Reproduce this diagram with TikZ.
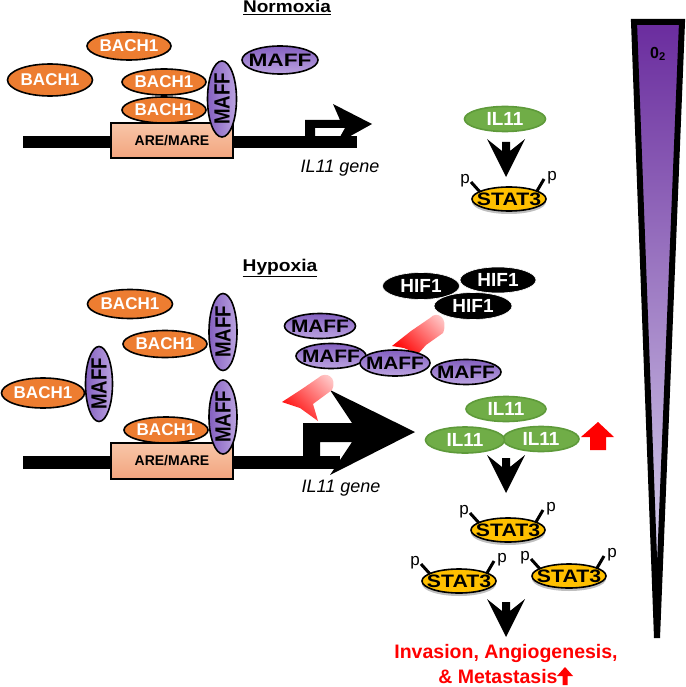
\documentclass[tikz,border=0pt]{standalone}
\usepackage{fontspec}
\setmainfont{Liberation Sans}
\usepackage{graphicx}
\usetikzlibrary{shapes.geometric,shadows}
\definecolor{bachO}{HTML}{ED7D31}
\definecolor{maffT}{HTML}{8460C0}
\definecolor{maffB}{HTML}{BBA3E0}
\definecolor{areT}{HTML}{F8C6A8}
\definecolor{areB}{HTML}{F2A47E}
\definecolor{ilG}{HTML}{70AD47}
\definecolor{ilD}{HTML}{5E9A3A}
\definecolor{statY}{HTML}{FFC000}
\definecolor{oTop}{HTML}{6A2C9E}
\definecolor{oMid}{HTML}{9C8CC4}
\definecolor{oBot}{HTML}{E4E6F6}
\newcommand{\fsz}[1]{\fontsize{#1}{#1}\selectfont}
\newcommand{\statgrp}[3]{%
  \node[stat] (#1) at (#2,#3) {};
  \node[bt] at (#1) {\scalebox{1.18}[1]{STAT3}};
  \draw[stick] ([shift={(-38,-17)}]#1.center) -- ([shift={(-29,-7)}]#1.center);
  \draw[stick] ([shift={(35,-20)}]#1.center) -- ([shift={(28,-8)}]#1.center);
  \node[ptx] at ([shift={(-44,-16)}]#1.center) {p};
  \node[ptx] at ([shift={(43,-19)}]#1.center) {p};
}
\newcommand{\downarr}[2]{%
  \fill[black] (#1-19,#2-38) -- (#1-4,#2-26) -- (#1-4,#2-35) -- (#1+4,#2-35) -- (#1+4,#2-26) -- (#1+19,#2-38) -- (#1,#2) -- cycle;
}
\begin{document}
\begin{tikzpicture}[x=1pt,y=-1pt,
  prot/.style={ellipse, inner sep=0pt, line width=1.6pt},
  bach/.style={prot, draw=black, fill=bachO, minimum width=84pt, minimum height=28pt},
  maffh/.style={prot, draw=black, top color=maffT, bottom color=maffB, minimum width=70pt, minimum height=25pt},
  maffv/.style={prot, draw=black, left color=maffT, right color=maffB, minimum width=28pt, minimum height=76pt},
  il/.style={prot, draw=ilD, fill=ilG, minimum width=80pt, minimum height=25pt},
  hif/.style={prot, draw=white, line width=0.6pt, fill=black, minimum width=77pt, minimum height=27pt},
  stat/.style={prot, draw=black, fill=statY, minimum width=74pt, minimum height=24pt,
     drop shadow={shadow xshift=0pt, shadow yshift=-3pt, opacity=0.25, fill=black}},
  arebox/.style={rectangle, draw=black, line width=1.5pt, top color=areT, bottom color=areB,
     minimum width=122pt, minimum height=35pt, inner sep=0pt, font=\bfseries\fsz{14}},
  wt/.style={inner sep=0pt, text=white, font=\bfseries\fsz{17}},
  wtl/.style={inner sep=0pt, text=white, font=\bfseries\fsz{19}},
  bt/.style={inner sep=0pt, text=black, font=\bfseries\fsz{18}},
  vt/.style={inner sep=0pt, text=black, font=\bfseries\fsz{22}, rotate=90},
  ptx/.style={inner sep=0pt, anchor=base, font=\fsz{17}},
  stick/.style={line width=3pt, black},
  ttl/.style={inner sep=0pt, anchor=base, font=\bfseries\fsz{17}},
  gene/.style={inner sep=0pt, anchor=base, font=\itshape\fsz{18}},
  redtx/.style={inner sep=0pt, anchor=base, text=red, font=\bfseries\fsz{19.5}},
  redarr/.style={top color=red!22, bottom color=red!95, shading angle=-45}
]
\useasboundingbox (0,0) rectangle (685,687);

% ---------- O2 gradient wedge ----------
\shade[top color=oTop, middle color=oMid, bottom color=oBot] (634,22) -- (682,22) -- (657,638) -- cycle;
\draw[line width=6pt, line join=miter] (634,22) -- (682,22) -- (657,638) -- cycle;
\node[font=\bfseries\fsz{16}, inner sep=0pt] (o2) at (658,54) {0\textsubscript{2}};

% ---------- Normoxia ----------
\node[ttl] (tN) at (287,13) {\underline{\scalebox{1.12}[1]{Normoxia}}};
\fill[black] (23,136) rectangle (357,148);
\fill[black] (305,137) -- (305,120) -- (340,120) -- (333,104) -- (372,124) -- (336,144) -- (345,128) -- (315,128) -- (315,137) -- cycle;
\node[arebox] (are1) at (172,140.5) {ARE/MARE};
\node[gene] (g1) at (340,172) {IL11 gene};

\node[bach] (nb1) at (129,46) {};  \node[wt] at (nb1) {BACH1};
\node[bach, minimum width=85pt, minimum height=32pt] (nb2) at (50,80) {};  \node[wt] at (nb2) {BACH1};
\node[bach, minimum height=26pt] (nb3) at (164,82) {};  \node[wt] at (nb3) {BACH1};
\node[bach, minimum height=26pt] (nb4) at (164,110) {}; \node[wt] at (nb4) {BACH1};
\node[maffv, minimum width=29pt] (nm1) at (222,99) {}; \node[vt] at (nm1) {\scalebox{0.85}[1]{MAFF}};
\node[maffh, minimum width=76pt, minimum height=28pt] (nm2) at (280,60) {}; \node[bt] at (nm2) {\scalebox{1.26}[1]{MAFF}};

\node[il, minimum width=81pt] (ni1) at (505,119) {}; \node[wtl] at (ni1) {IL11};
\downarr{506}{177}
\statgrp{ns1}{509}{199}

% ---------- Hypoxia ----------
\node[ttl] (tH) at (280,271.5) {\underline{\scalebox{1.13}[1]{Hypoxia}}};
\fill[black] (23,456) rectangle (340,469);
\fill[black] (303,458) -- (303,423) -- (352,423) -- (330,390) -- (415,432) -- (330,475) -- (352,442) -- (320,442) -- (320,458) -- cycle;
\node[arebox, minimum height=36pt] (are2) at (172,461) {ARE/MARE};
\node[gene] (g2) at (341,492) {IL11 gene};

% red gradient arrows
\shade[redarr] (318,378) .. controls (326,370) and (338,378) .. (332,390) -- (313,404) -- (318,421) -- (300,408) -- (282,402) -- (302,389) -- cycle;
\shade[redarr] (430,318) .. controls (437,310) and (449,318) .. (443,333) -- (426,345) -- (418,354) -- (404,348) -- (392,346) -- (411,331) -- cycle;

\node[bach, minimum width=85pt, minimum height=29pt] (hb1) at (130,304) {}; \node[wt] at (hb1) {BACH1};
\node[bach, minimum height=27pt] (hb2) at (165,344) {}; \node[wt] at (hb2) {BACH1};
\node[bach, minimum width=83pt, minimum height=30pt] (hb3) at (43,393) {}; \node[wt] at (hb3) {BACH1};
\node[bach, minimum height=26pt] (hb4) at (166,430) {}; \node[wt] at (hb4) {BACH1};
\node[maffv, minimum height=77pt] (hm1) at (223,332) {}; \node[vt] at (hm1) {\scalebox{0.85}[1]{MAFF}};
\node[maffv, minimum width=27pt, minimum height=75pt] (hm2) at (99,384) {}; \node[vt] at (hm2) {\scalebox{0.85}[1]{MAFF}};
\node[maffv, minimum height=74pt] (hm3) at (223,417) {}; \node[vt] at (hm3) {\scalebox{0.85}[1]{MAFF}};

\node[hif] (h1) at (421,286) {}; \node[wtl] at (h1) {HIF1};
\node[hif, minimum width=76pt, minimum height=26pt] (h2) at (498,280) {}; \node[wtl] at (h2) {HIF1};
\node[hif, minimum width=78pt] (h3) at (473,306) {}; \node[wtl] at (h3) {HIF1};

\node[maffh, minimum width=71pt] (hm4) at (320,326) {}; \node[bt] at (hm4) {\scalebox{1.16}[1]{MAFF}};
\node[maffh] (hm5) at (331,356) {}; \node[bt] at (hm5) {\scalebox{1.16}[1]{MAFF}};
\node[maffh, minimum height=26pt] (hm6) at (395,363) {}; \node[bt] at (hm6) {\scalebox{1.16}[1]{MAFF}};
\node[maffh] (hm7) at (466,372) {}; \node[bt] at (hm7) {\scalebox{1.16}[1]{MAFF}};

\node[il] (hi1) at (506,409) {}; \node[wtl] at (hi1) {IL11};
\node[il, minimum width=76pt] (hi3) at (541,439) {}; \node[wtl] at (hi3) {IL11};
\node[il, minimum width=79pt, minimum height=26pt] (hi2) at (465,440) {}; \node[wtl] at (hi2) {IL11};
\fill[red] (598,422) -- (614,437) -- (606,437) -- (606,450) -- (590,450) -- (590,437) -- (581,437) -- cycle;

\downarr{506}{493}
\statgrp{hs1}{508}{530}
\statgrp{hs2}{459}{581}
\statgrp{hs3}{569}{576}
\downarr{506}{637}

\node[redtx] (r1) at (506,658) {Invasion, Angiogenesis,};
\node[redtx] (r2) at (498,683) {\& Metastasis};
\fill[red] (565,667) -- (573,676) -- (567.5,676) -- (567.5,685) -- (562.5,685) -- (562.5,676) -- (557,676) -- cycle;
\end{tikzpicture}
\end{document}
